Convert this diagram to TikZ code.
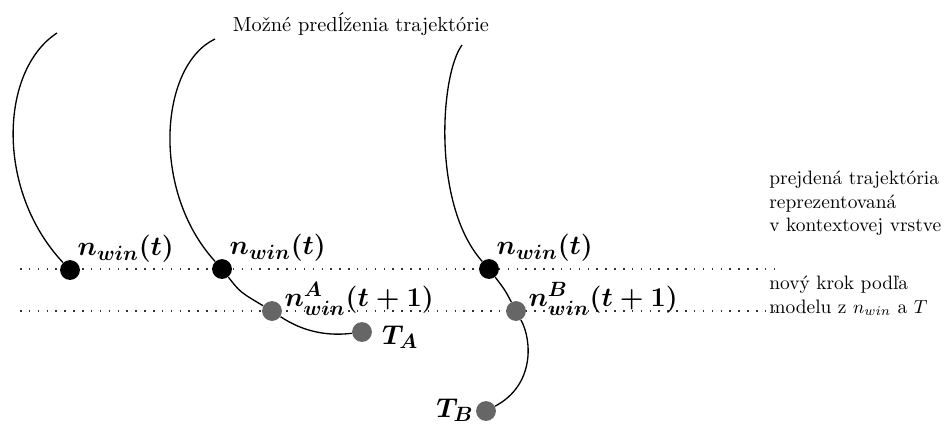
\documentclass[tikz,border=0pt]{standalone}
\usepackage{amsmath,amssymb}
\usepackage{fontspec}
\usepackage{tikz}
\usetikzlibrary{positioning,calc}

\begin{document}
\begin{tikzpicture}[x=0.53pt, y=-0.53pt,
    dot/.style={circle, fill=black, inner sep=0pt, minimum size=10.5pt},
    gdot/.style={dot, fill=black!60},
    lbl/.style={font=\fontsize{15}{18}\selectfont\boldmath, inner sep=0pt},
    txt/.style={align=left, inner sep=0pt, font=\fontsize{10.3}{12.3}\selectfont},
    traj/.style={line width=0.7pt},
    guide/.style={line width=0.8pt, dash pattern=on 0.8pt off 3.9pt, black!80}]

    \useasboundingbox (0,0) rectangle (946,426);

    % Guide lines
    \coordinate (g1a) at (20,269);
    \coordinate (g1b) at (775,269);
    \coordinate (g2a) at (20,311);
    \coordinate (g2b) at (775,311);
    \draw[guide] (g1a) -- (g1b);
    \draw[guide] (g2a) -- (g2b);

    % Current positions
    \node[dot] (n1) at (70,270) {};
    \node[dot] (n2) at (222,269) {};
    \node[dot] (n3) at (489,269) {};

    % Predicted steps and targets
    \node[gdot] (a1) at (272,311) {};
    \node[gdot] (ta) at (362,332) {};
    \node[gdot] (b1) at (516,311) {};
    \node[gdot] (tb) at (486,411) {};

    % Free ends
    \coordinate (top1) at (57,33);
    \coordinate (top2) at (215,39);
    \coordinate (top3) at (462,45);

    % Trajectories
    \draw[traj] (top1) .. controls (0,70) and (-5,190) .. (n1);
    \draw[traj] (top2) .. controls (160,65) and (150,190) .. (n2);
    \draw[traj] (top3) .. controls (440,75) and (432,205) .. (n3);
    \draw[traj] (n2) .. controls (240,292) .. (a1);
    \draw[traj] (a1) .. controls (305,333) and (330,336) .. (ta);
    \draw[traj] (n3) .. controls (505,290) .. (b1);
    \draw[traj] (b1) .. controls (532,340) and (535,385) .. (tb);

    % Labels
    \node[lbl, anchor=south west] (l1) at (n1.north east) {$n_{win}(t)$};
    \node[lbl, anchor=south west] (l2) at (n2.north east) {$n_{win}(t)$};
    \node[lbl, anchor=south west] (l3) at (n3.north east) {$n_{win}(t)$};
    \node[lbl, base right=1pt of a1.east, yshift=2.5pt] (la) {$n^{A}_{win}(t+1)$};
    \node[lbl, base right=1pt of b1.east, yshift=2.5pt] (lb) {$n^{B}_{win}(t+1)$};
    \node[lbl, base right=5pt of ta.east, yshift=-6.4pt] (lta) {$T_A$};
    \node[lbl, base left=1pt of tb.west, yshift=-3.2pt] (ltb) {$T_B$};

    % Notes
    \node[txt, font=\fontsize{10.8}{13}\selectfont] (title) at (361,24) {Možné predĺženia trajektórie};
    \node[txt, anchor=north west] (past) at (769,171) {prejdená trajektória\\reprezentovaná\\v kontextovej vrstve};
    \node[txt, anchor=north west] (nxt) at (769,276) {nový krok podľa\\modelu z $n_{win}$ a $T$};
\end{tikzpicture}
\end{document}
